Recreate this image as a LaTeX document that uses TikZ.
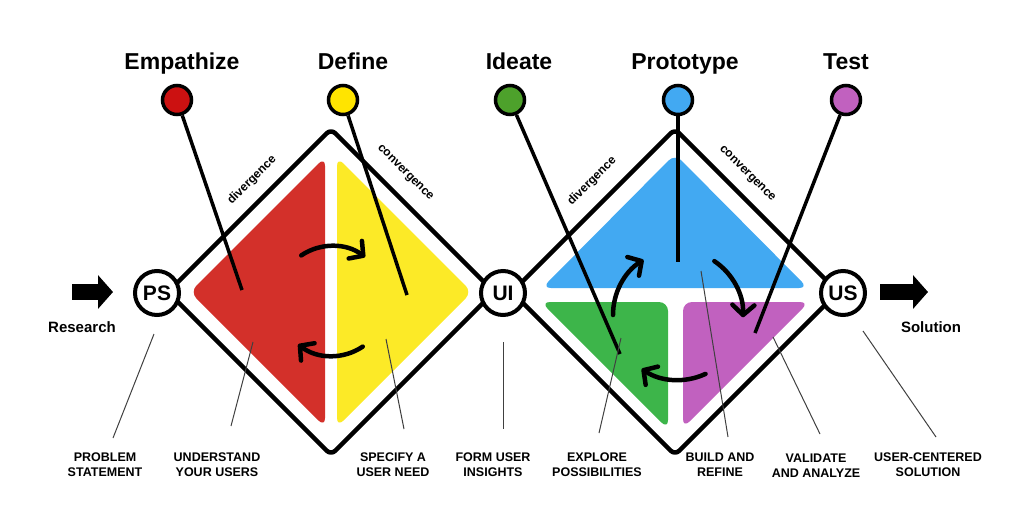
\documentclass[tikz,border=0pt]{standalone}
\usepackage{fontspec}
\setmainfont{Liberation Sans}
\usetikzlibrary{arrows.meta}
\definecolor{redA}{HTML}{D3302A}
\definecolor{redC}{HTML}{CC1111}
\definecolor{yelA}{HTML}{FCEA27}
\definecolor{yelC}{HTML}{FFE400}
\definecolor{grnA}{HTML}{3DB54A}
\definecolor{grnC}{HTML}{4DA12B}
\definecolor{bluA}{HTML}{42A9F2}
\definecolor{purA}{HTML}{C161BF}
\begin{document}
\begin{tikzpicture}[x=1pt,y=-1pt,
  title/.style={font=\fontsize{23}{27}\selectfont\bfseries, anchor=base},
  pinc/.style={circle, draw, line width=3.5pt, minimum size=29pt, inner sep=0pt},
  vert/.style={circle, draw, fill=white, line width=4pt, minimum size=44pt, inner sep=0pt, font=\fontsize{21}{24}\selectfont\bfseries},
  dia/.style={line width=4.5pt, rounded corners=6pt, line join=round},
  region/.style={rounded corners=9pt},
  pinl/.style={line width=3.5pt},
  cyc/.style={line width=4.5pt, line cap=round, -{Straight Barb[length=10pt,width=22pt,round]}},
  lead/.style={line width=1pt, draw=black!75},
  lab/.style={font=\fontsize{12.5}{15}\selectfont\bfseries, align=center},
  edgelab/.style={font=\fontsize{12}{14}\selectfont\bfseries},
  side/.style={font=\fontsize{15}{18}\selectfont\bfseries},
  big/.style={line width=16pt, -{Triangle[length=15pt,width=33pt]}}
]
\useasboundingbox (0,0) rectangle (1017,531);

% coloured regions
\fill[redA, region] (325,157) -- (190,292) -- (325,427) -- cycle;
\fill[yelA, region] (337,157) -- (472,292) -- (337,427) -- cycle;
\fill[bluA, region] (675,154) -- (808,288) -- (542,288) -- cycle;
\fill[grnA, region] (541,302) -- (668,302) -- (668,429) -- cycle;
\fill[purA, region] (683,302) -- (809,302) -- (683,428) -- cycle;

% diamonds
\draw[dia] (168,292) -- (331,129) -- (494,292) -- (331,455) -- cycle;
\draw[dia] (512,292) -- (675,129) -- (838,292) -- (675,455) -- cycle;

% edge labels
\node[edgelab, rotate=45] (dvL) at (252,180) {divergence};
\node[edgelab, rotate=-45] (cvL) at (405,173) {convergence};
\node[edgelab, rotate=45] (dvR) at (592,181) {divergence};
\node[edgelab, rotate=-45] (cvR) at (747,174) {convergence};

% titles
\node[title] (tEmp) at (182,69) {Empathize};
\node[title] (tDef) at (353,69) {Define};
\node[title] (tIde) at (519,69) {Ideate};
\node[title] (tPro) at (685,69) {Prototype};
\node[title] (tTes) at (846,69) {Test};

% pins
\node[pinc, fill=redC] (cEmp) at (177,100) {};
\node[pinc, fill=yelC] (cDef) at (343,100) {};
\node[pinc, fill=grnC] (cIde) at (510,100) {};
\node[pinc, fill=bluA] (cPro) at (678,100) {};
\node[pinc, fill=purA] (cTes) at (846,100) {};
\coordinate (eEmp) at (242,290);
\coordinate (eDef) at (407,295);
\coordinate (eIde) at (620,354);
\coordinate (ePro) at (678,262);
\coordinate (eTes) at (755,333);
\draw[pinl] (cEmp) -- (eEmp);
\draw[pinl] (cDef) -- (eDef);
\draw[pinl] (cIde) -- (eIde);
\draw[pinl] (cPro) -- (ePro);
\draw[pinl] (cTes) -- (eTes);

% cycle arrows
\coordinate (cL) at (332,301);
\coordinate (cR) at (678,315);
\draw[cyc] ([shift={(-124:55)}]cL) arc[start angle=-124, end angle=-53, radius=55];
\draw[cyc] ([shift={(56:55)}]cL) arc[start angle=56, end angle=128, radius=55];
\draw[cyc] ([shift={(-180:65)}]cR) arc[start angle=-180, end angle=-122, radius=65];
\draw[cyc] ([shift={(-56:65)}]cR) arc[start angle=-56, end angle=2, radius=65];
\draw[cyc] ([shift={(65:65)}]cR) arc[start angle=65, end angle=124, radius=65];

% vertex circles
\node[vert] (PS) at (157,293) {PS};
\node[vert] (UI) at (503,293) {UI};
\node[vert] (US) at (843,293) {US};

% big arrows
\coordinate (a1) at (72,292);
\coordinate (a2) at (113,292);
\coordinate (b1) at (880,292);
\coordinate (b2) at (928,292);
\draw[big] (a1) -- (a2);
\draw[big] (b1) -- (b2);
\node[side] (res) at (82,327) {Research};
\node[side] (sol) at (931,327) {Solution};

% bottom labels
\node[lab] (l1) at (105,465) {PROBLEM\\STATEMENT};
\node[lab] (l2) at (217,465) {UNDERSTAND\\YOUR USERS};
\node[lab] (l3) at (393,465) {SPECIFY A\\USER NEED};
\node[lab] (l4) at (493,465) {FORM USER\\INSIGHTS};
\node[lab] (l5) at (597,465) {EXPLORE\\POSSIBILITIES};
\node[lab] (l6) at (720,465) {BUILD AND\\REFINE};
\node[lab] (l7) at (816,466) {VALIDATE\\AND ANALYZE};
\node[lab] (l8) at (928,465) {USER-CENTERED\\SOLUTION};

% leader lines
\coordinate (s1) at (154,334);
\coordinate (s2) at (253,342);
\coordinate (s3) at (386,339);
\coordinate (s4) at (503,342);
\coordinate (s5) at (621,338);
\coordinate (s6) at (701,271);
\coordinate (s7) at (773,337);
\coordinate (s8) at (863,331);
\coordinate (t1) at (113,438);
\coordinate (t2) at (231,426);
\coordinate (t3) at (404,429);
\coordinate (t4) at (503,429);
\coordinate (t5) at (599,433);
\coordinate (t6) at (728,437);
\coordinate (t7) at (820,434);
\coordinate (t8) at (936,437);
\draw[lead] (s1) -- (t1);
\draw[lead] (s2) -- (t2);
\draw[lead] (s3) -- (t3);
\draw[lead] (s4) -- (t4);
\draw[lead] (s5) -- (t5);
\draw[lead] (s6) -- (t6);
\draw[lead] (s7) -- (t7);
\draw[lead] (s8) -- (t8);
\end{tikzpicture}
\end{document}
